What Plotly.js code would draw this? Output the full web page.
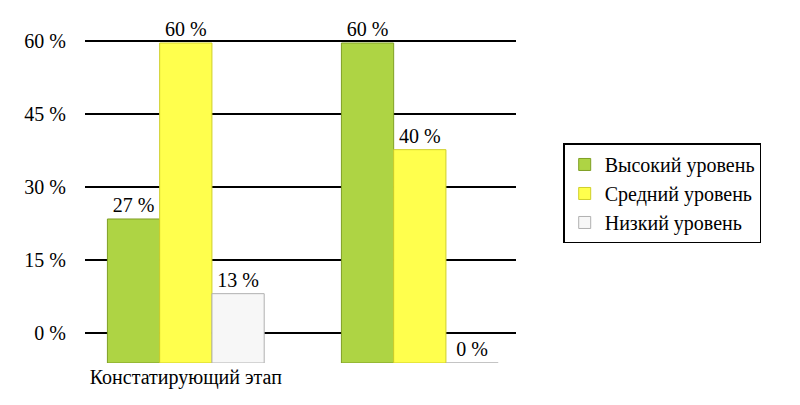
<!DOCTYPE html>
<html>
<head>
<meta charset="utf-8">
<script src="https://cdn.plot.ly/plotly-3.0.1.min.js"></script>
<style>html,body{margin:0;padding:0;background:#fff;}#chart{width:800px;height:405px;}</style>
</head>
<body>
<div id="chart"></div>
<script>
const categories = ["Констатирующий этап", "Контрольный этап"];
const categoryLabels = ["Констатирующий этап", ""];
const seriesNames = ["Высокий уровень", "Средний уровень", "Низкий уровень"];
const highValues = [27, 60];
const midValues = [60, 40];
const lowValues = [13, 0];
const tickValues = [0, 15, 30, 45, 60];
const tickLabels = ["0 %", "15 %", "30 %", "45 %", "60 %"];

const FONT = "Liberation Serif, Times New Roman, serif";
const colors = ["#aed444", "#ffff4d", "#f7f7f7"];
const lineColors = ["#7f9f24", "#cfcf2a", "#b0b0b0"];
const seriesValues = [highValues, midValues, lowValues];

const traces = seriesValues.map((vals, i) => ({
  type: "bar",
  name: seriesNames[i],
  x: categories,
  y: vals,
  xaxis: "x2",
  yaxis: "y2",
  marker: {color: colors[i], line: {color: lineColors[i], width: 1}},
  text: vals.map(v => v + " %"),
  textposition: "outside",
  cliponaxis: false,
  textfont: {family: FONT, size: 20, color: "#000"},
  hoverinfo: "skip"
}));

// invisible trace to establish the gridline subplot
traces.unshift({
  type: "scatter", x: [0, 1], y: [0, 60], xaxis: "x", yaxis: "y",
  mode: "markers", marker: {opacity: 0}, showlegend: false, hoverinfo: "skip"
});

const layout = {
  width: 800, height: 405,
  margin: {l: 0, r: 0, t: 20, b: 42},
  paper_bgcolor: "#fff",
  plot_bgcolor: "rgba(0,0,0,0)",
  font: {family: FONT, size: 20, color: "#000"},
  showlegend: true,
  legend: {
    x: 0.704, y: 0.64, xanchor: "left", yanchor: "top",
    bordercolor: "#000", borderwidth: 1.5,
    font: {family: FONT, size: 20, color: "#000"},
    tracegroupgap: 0, itemwidth: 30
  },
  bargap: 0.33, bargroupgap: 0,
  xaxis: {domain: [0.106, 0.645], range: [0, 1], showgrid: false, zeroline: false,
          showticklabels: false, showline: false, fixedrange: true},
  yaxis: {domain: [0, 1], range: [-6.16, 64.32], tickvals: tickValues, ticktext: tickLabels,
          showgrid: true, gridcolor: "#000", gridwidth: 2, zeroline: false,
          showline: false, ticks: "", ticklabelstandoff: 18,
          tickfont: {family: FONT, size: 20, color: "#000"}},
  xaxis2: {domain: [0.086, 0.671], anchor: "y2", type: "category",
           tickvals: categories, ticktext: categoryLabels,
           showgrid: false, zeroline: false, showline: false, ticks: "",
           tickfont: {family: FONT, size: 20, color: "#000"}},
  yaxis2: {domain: [0, 1], anchor: "x2", range: [0, 64.31],
           showgrid: false, zeroline: false, showticklabels: false, showline: false}
};

Plotly.newPlot("chart", traces, layout, {displayModeBar: false, staticPlot: true});
</script>
</body>
</html>
